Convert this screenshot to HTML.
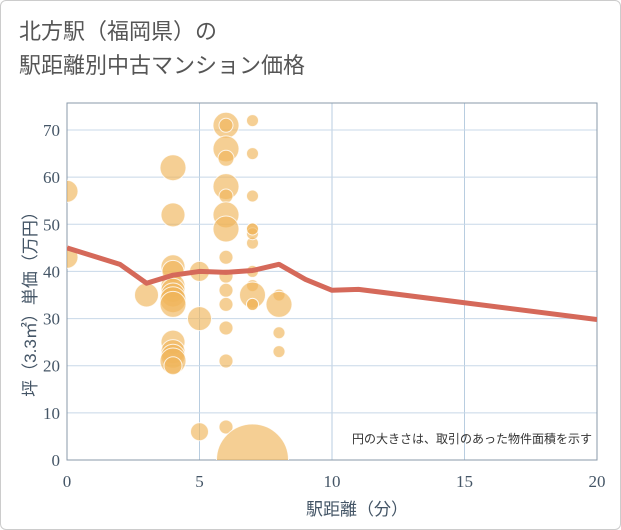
<!DOCTYPE html>
<html><head><meta charset="utf-8"><style>
body{margin:0;background:#fff;}
#wrap{position:relative;width:619px;height:528px;border:1px solid #ccc;border-radius:6px;overflow:hidden;font-family:"Liberation Sans","Noto Sans CJK JP",sans-serif;}
#title{position:absolute;left:18px;top:14px;font-size:22px;line-height:34px;color:#555;}
</style></head><body>
<div id="wrap">
<div id="title">北方駅（福岡県）の<br>駅距離別中古マンション価格</div>
<svg id="chart" width="621" height="530" style="position:absolute;left:-1px;top:-1px"></svg>
</div>
<script>
const xTicks=[0,5,10,15,20];
const yTicks=[0,10,20,30,40,50,60,70];
const bubbleX=[0,0,3,4,4,4,4,4,4,4,4,4,4,4,4,4,4,5,5,5,6,6,6,6,6,6,6,6,6,6,6,6,6,6,6,7,7,7,7,7,7,7,7,7,7,7,7,8,8,8,8,7];
const bubbleY=[57,43,35,62,52,41,40,37,36,35,34,33,25,23,22,21,20,6,40,30,28,71,71,66,64,58,56,52,49,43,39,36,33,21,7,72,65,56,49,46,40,37,35,33,48,49,33,35,33,27,23,0];
const bubbleR=[11,11,12,13,12,12,11,12,12,12,13,13,12,12,12,13,9,9,10,12,7,13,7,13,8,13,7,13,13,7,7,7,7,7,7,6,6,6,6,6,6,6,13,6,6,6,6,6,13,6,6,36];
const lineX=[0,2,3,4,5,6,7,8,9,10,11,20];
const lineY=[45,41.5,37.5,39.2,40,39.8,40.2,41.5,38.3,36,36.2,29.8];
const svg=document.getElementById('chart');const NS='http://www.w3.org/2000/svg';
const L=67,R=597,T=103,B=460;
const sx=v=>L+(R-L)*v/20, sy=v=>B-(B-130)*v/70;
function mk(t,a,p){const e=document.createElementNS(NS,t);for(const k in a)e.setAttribute(k,a[k]);(p||svg).appendChild(e);return e;}
const defs=mk('defs',{});const cp=mk('clipPath',{id:'cp'},defs);mk('rect',{x:L,y:T,width:R-L,height:B-T},cp);
for(const t of xTicks){if(t>0){const g=mk('line',{x1:sx(t),x2:sx(t),y1:T,y2:B,stroke:'#b8cde0','stroke-width':1});

}
const tx=mk('text',{x:sx(t),y:487,'text-anchor':'middle','font-size':17,fill:'#445566','font-family':'Liberation Serif, serif'});tx.textContent=t;

}
for(const t of yTicks){if(t>0){const g=mk('line',{x1:L,x2:R,y1:sy(t),y2:sy(t),stroke:'#c8d8e8','stroke-width':1});

}
const tx=mk('text',{x:60,y:sy(t)+6,'text-anchor':'end','font-size':17,fill:'#445566','font-family':'Liberation Serif, serif'});tx.textContent=t;

}
const fr=mk('rect',{x:L,y:T,width:R-L,height:B-T,fill:'none',stroke:'#8899aa','stroke-width':1});


const bg=mk('g',{'clip-path':'url(#cp)'});
for(let i=0;i<bubbleX.length;i++){const c=mk('circle',{cx:sx(bubbleX[i]),cy:sy(bubbleY[i]),r:bubbleR[i],fill:'rgba(240,182,90,0.65)',stroke:'rgba(255,255,255,0.8)','stroke-width':1},bg);

}
const pl=mk('polyline',{points:lineX.map((x,i)=>sx(x)+','+sy(lineY[i])).join(' '),fill:'none',stroke:'#d5695a','stroke-width':5,'stroke-linejoin':'round','clip-path':'url(#cp)'});


const n=mk('text',{x:592,y:443,'text-anchor':'end','font-size':12,fill:'#333'});n.textContent='円の大きさは、取引のあった物件面積を示す';


const xt=mk('text',{x:357,y:515,'text-anchor':'middle','font-size':17,fill:'#445566'});xt.textContent='駅距離（分）';


const yt=mk('text',{x:0,y:0,'text-anchor':'middle','font-size':17,fill:'#445566',transform:'translate(36,300) rotate(-90)'});yt.textContent='坪（3.3㎡）単価（万円）';


</script>
</body></html>
